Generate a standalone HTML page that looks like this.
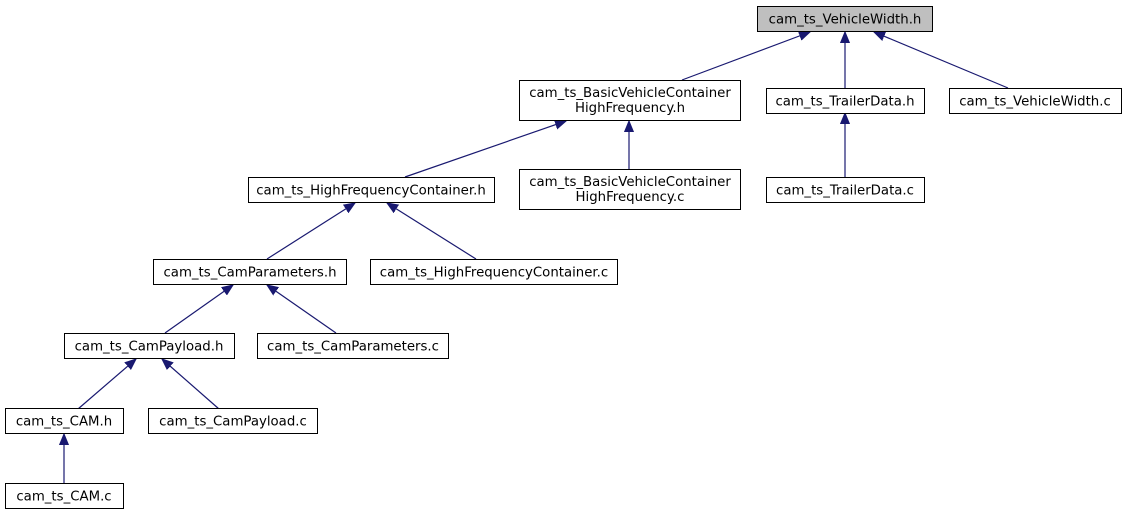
<!DOCTYPE html>
<html><head><meta charset="utf-8"><style>
html,body{margin:0;padding:0;background:#fff;}
svg{display:block;}
text{font-family:"DejaVu Sans","Liberation Sans",sans-serif;font-size:13.3px;fill:#000;}
</style></head><body>
<svg width="1125" height="515" viewBox="0 0 1125 515" xmlns="http://www.w3.org/2000/svg">
<defs>
<marker id="a" markerUnits="userSpaceOnUse" markerWidth="12" markerHeight="10" refX="11" refY="5" orient="auto">
<path d="M0,0.5 L11,5 L0,9.5 z" fill="#191970" stroke="#191970"/>
</marker>
</defs>
<g stroke="#191970" stroke-width="1.2" fill="none" marker-end="url(#a)">
<line x1="682" y1="80" x2="810" y2="32"/>
<line x1="845" y1="88" x2="845" y2="32"/>
<line x1="1008" y1="88" x2="874" y2="32"/>
<line x1="405" y1="177" x2="566" y2="121"/>
<line x1="629" y1="169" x2="629" y2="121"/>
<line x1="845" y1="177" x2="845" y2="113"/>
<line x1="267" y1="259" x2="355" y2="203"/>
<line x1="476" y1="259" x2="387" y2="203"/>
<line x1="165" y1="333" x2="233" y2="285"/>
<line x1="336" y1="333" x2="267" y2="285"/>
<line x1="78" y1="409" x2="136" y2="359"/>
<line x1="219" y1="409" x2="162" y2="359"/>
<line x1="64" y1="483" x2="64" y2="434"/>
</g>
<g stroke="#000" stroke-width="1">
<rect x="757.5" y="6.5" width="175" height="25" fill="#bfbfbf"/>
<rect x="519.5" y="80.5" width="221" height="40" fill="#fff"/>
<rect x="766.5" y="88.5" width="158" height="25" fill="#fff"/>
<rect x="949.5" y="88.5" width="172" height="25" fill="#fff"/>
<rect x="248.5" y="177.5" width="246" height="25" fill="#fff"/>
<rect x="519.5" y="169.5" width="221" height="40" fill="#fff"/>
<rect x="766.5" y="177.5" width="158" height="25" fill="#fff"/>
<rect x="153.5" y="259.5" width="193" height="25" fill="#fff"/>
<rect x="370.5" y="259.5" width="247" height="25" fill="#fff"/>
<rect x="64.5" y="333.5" width="170" height="25" fill="#fff"/>
<rect x="257.5" y="333.5" width="191" height="25" fill="#fff"/>
<rect x="5.5" y="408.5" width="118" height="25" fill="#fff"/>
<rect x="148.5" y="408.5" width="169" height="25" fill="#fff"/>
<rect x="5.5" y="483.5" width="118" height="25" fill="#fff"/>
</g>
<g text-anchor="middle">
<text x="845" y="23.5">cam_ts_VehicleWidth.h</text>
<text x="630" y="97">cam_ts_BasicVehicleContainer</text>
<text x="630" y="112">HighFrequency.h</text>
<text x="845" y="105.5">cam_ts_TrailerData.h</text>
<text x="1035" y="105.5">cam_ts_VehicleWidth.c</text>
<text x="371" y="194.5">cam_ts_HighFrequencyContainer.h</text>
<text x="630" y="186">cam_ts_BasicVehicleContainer</text>
<text x="630" y="201">HighFrequency.c</text>
<text x="845" y="194.5">cam_ts_TrailerData.c</text>
<text x="250" y="276.5">cam_ts_CamParameters.h</text>
<text x="494" y="276.5">cam_ts_HighFrequencyContainer.c</text>
<text x="149" y="350.5">cam_ts_CamPayload.h</text>
<text x="353" y="350.5">cam_ts_CamParameters.c</text>
<text x="64" y="425.5">cam_ts_CAM.h</text>
<text x="233" y="425.5">cam_ts_CamPayload.c</text>
<text x="64" y="500.5">cam_ts_CAM.c</text>
</g>
</svg>
</body></html>
